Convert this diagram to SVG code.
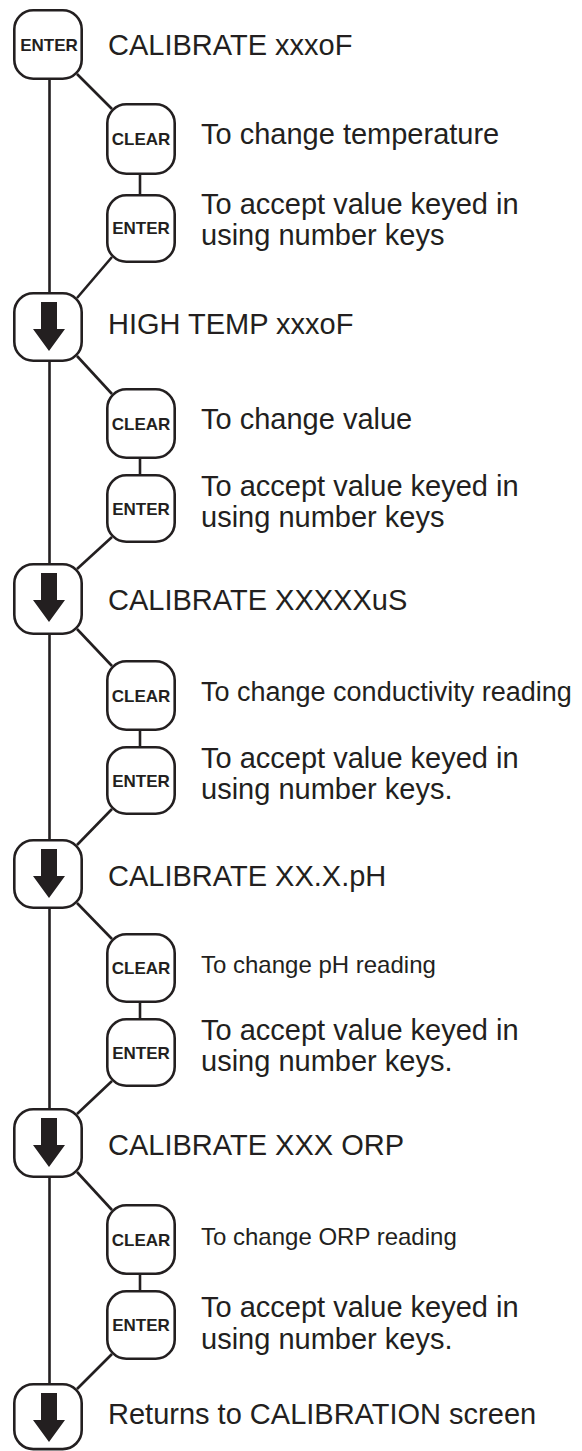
<svg xmlns="http://www.w3.org/2000/svg" width="582" height="1451" viewBox="0 0 582 1451">
<style>
.key{fill:#fff;stroke:#231f20;stroke-width:2.6}
.conn line{stroke:#231f20;stroke-width:2.6;fill:none}
.arrow{fill:#231f20}
.kl{font-family:"Liberation Sans",Arial,sans-serif;font-weight:bold;font-size:17px;fill:#231f20;text-anchor:middle}
.hd{font-family:"Liberation Sans",Arial,sans-serif;font-size:29px;fill:#231f20}
.ds{font-family:"Liberation Sans",Arial,sans-serif;font-size:29px;fill:#231f20}
</style>
<rect width="582" height="1451" fill="#fff"/>
<g id="connectors" class="conn">
<line x1="49.5" y1="80" x2="49.5" y2="292"/>
<line x1="49.5" y1="362" x2="49.5" y2="563"/>
<line x1="49.5" y1="635" x2="49.5" y2="839"/>
<line x1="49.5" y1="909" x2="49.5" y2="1108"/>
<line x1="49.5" y1="1178" x2="49.5" y2="1383"/>
<line x1="77" y1="74" x2="112" y2="109"/>
<line x1="140" y1="175" x2="140" y2="194"/>
<line x1="112" y1="257" x2="77" y2="298"/>
<line x1="77" y1="356" x2="112" y2="394"/>
<line x1="140" y1="459" x2="140" y2="474"/>
<line x1="112" y1="537" x2="77" y2="569"/>
<line x1="77" y1="629" x2="112" y2="666"/>
<line x1="140" y1="731" x2="140" y2="746"/>
<line x1="112" y1="809" x2="77" y2="845"/>
<line x1="77" y1="903" x2="112" y2="939"/>
<line x1="140" y1="1003" x2="140" y2="1018"/>
<line x1="112" y1="1081" x2="77" y2="1114"/>
<line x1="77" y1="1172" x2="112" y2="1210"/>
<line x1="140" y1="1275" x2="140" y2="1290"/>
<line x1="112" y1="1354" x2="77" y2="1389"/>
</g>
<g id="main-enter">
<rect class="key" x="14.3" y="10.3" width="67.4" height="68.4" rx="19"/>
<text class="kl" x="49" y="51">ENTER</text>
<text class="hd" x="108" y="55">CALIBRATE xxxoF</text>
</g>
<g id="clear-1">
<rect class="key" x="107.3" y="104.3" width="67.4" height="69.4" rx="19"/>
<text class="kl" x="141" y="145">CLEAR</text>
<text class="ds" x="201" y="144">To change temperature</text>
</g>
<g id="enter-1">
<rect class="key" x="107.3" y="195.3" width="67.4" height="66.4" rx="19"/>
<text class="kl" x="141" y="234">ENTER</text>
<text class="ds" x="201" y="214">To accept value keyed in</text>
<text class="ds" x="201" y="245">using number keys</text>
</g>
<g id="down-1">
<rect class="key" x="14.3" y="293.3" width="67.4" height="67.4" rx="19"/>
<polygon class="arrow" points="41,302 57,302 57,329 65,329 49,351 33,329 41,329"/>
<text class="hd" x="108" y="334">HIGH TEMP xxxoF</text>
</g>
<g id="clear-2">
<rect class="key" x="107.3" y="389.3" width="67.4" height="68.4" rx="19"/>
<text class="kl" x="141" y="430">CLEAR</text>
<text class="ds" x="201" y="429">To change value</text>
</g>
<g id="enter-2">
<rect class="key" x="107.3" y="475.3" width="67.4" height="66.4" rx="19"/>
<text class="kl" x="141" y="515">ENTER</text>
<text class="ds" x="201" y="496">To accept value keyed in</text>
<text class="ds" x="201" y="527">using number keys</text>
</g>
<g id="down-2">
<rect class="key" x="14.3" y="564.3" width="67.4" height="69.4" rx="19"/>
<polygon class="arrow" points="41,573 57,573 57,600 65,600 49,622 33,600 41,600"/>
<text class="hd" x="108" y="610">CALIBRATE XXXXXuS</text>
</g>
<g id="clear-3">
<rect class="key" x="107.3" y="661.3" width="67.4" height="68.4" rx="19"/>
<text class="kl" x="141" y="702">CLEAR</text>
<text class="ds" x="201" y="701" style="font-size:27px">To change conductivity reading</text>
</g>
<g id="enter-3">
<rect class="key" x="107.3" y="747.3" width="67.4" height="66.4" rx="19"/>
<text class="kl" x="141" y="787">ENTER</text>
<text class="ds" x="201" y="768">To accept value keyed in</text>
<text class="ds" x="201" y="799">using number keys.</text>
</g>
<g id="down-3">
<rect class="key" x="14.3" y="840.3" width="67.4" height="67.4" rx="19"/>
<polygon class="arrow" points="41,849 57,849 57,876 65,876 49,898 33,876 41,876"/>
<text class="hd" x="108" y="886">CALIBRATE XX.X.pH</text>
</g>
<g id="clear-4">
<rect class="key" x="107.3" y="934.3" width="67.4" height="67.4" rx="19"/>
<text class="kl" x="141" y="974">CLEAR</text>
<text class="ds" x="201" y="973" style="font-size:24px">To change pH reading</text>
</g>
<g id="enter-4">
<rect class="key" x="107.3" y="1019.3" width="67.4" height="66.4" rx="19"/>
<text class="kl" x="141" y="1059">ENTER</text>
<text class="ds" x="201" y="1040">To accept value keyed in</text>
<text class="ds" x="201" y="1071">using number keys.</text>
</g>
<g id="down-4">
<rect class="key" x="14.3" y="1109.3" width="67.4" height="67.4" rx="19"/>
<polygon class="arrow" points="41,1118 57,1118 57,1145 65,1145 49,1167 33,1145 41,1145"/>
<text class="hd" x="108" y="1155">CALIBRATE XXX ORP</text>
</g>
<g id="clear-5">
<rect class="key" x="107.3" y="1205.3" width="67.4" height="68.4" rx="19"/>
<text class="kl" x="141" y="1246">CLEAR</text>
<text class="ds" x="201" y="1245" style="font-size:24px">To change ORP reading</text>
</g>
<g id="enter-5">
<rect class="key" x="107.3" y="1291.3" width="67.4" height="67.4" rx="19"/>
<text class="kl" x="141" y="1331">ENTER</text>
<text class="ds" x="201" y="1317">To accept value keyed in</text>
<text class="ds" x="201" y="1349">using number keys.</text>
</g>
<g id="down-5">
<rect class="key" x="14.3" y="1384.3" width="67.4" height="64.8" rx="19"/>
<polygon class="arrow" points="41,1393 57,1393 57,1420 65,1420 49,1442 33,1420 41,1420"/>
<text class="hd" x="108" y="1424">Returns to CALIBRATION screen</text>
</g>
</svg>
